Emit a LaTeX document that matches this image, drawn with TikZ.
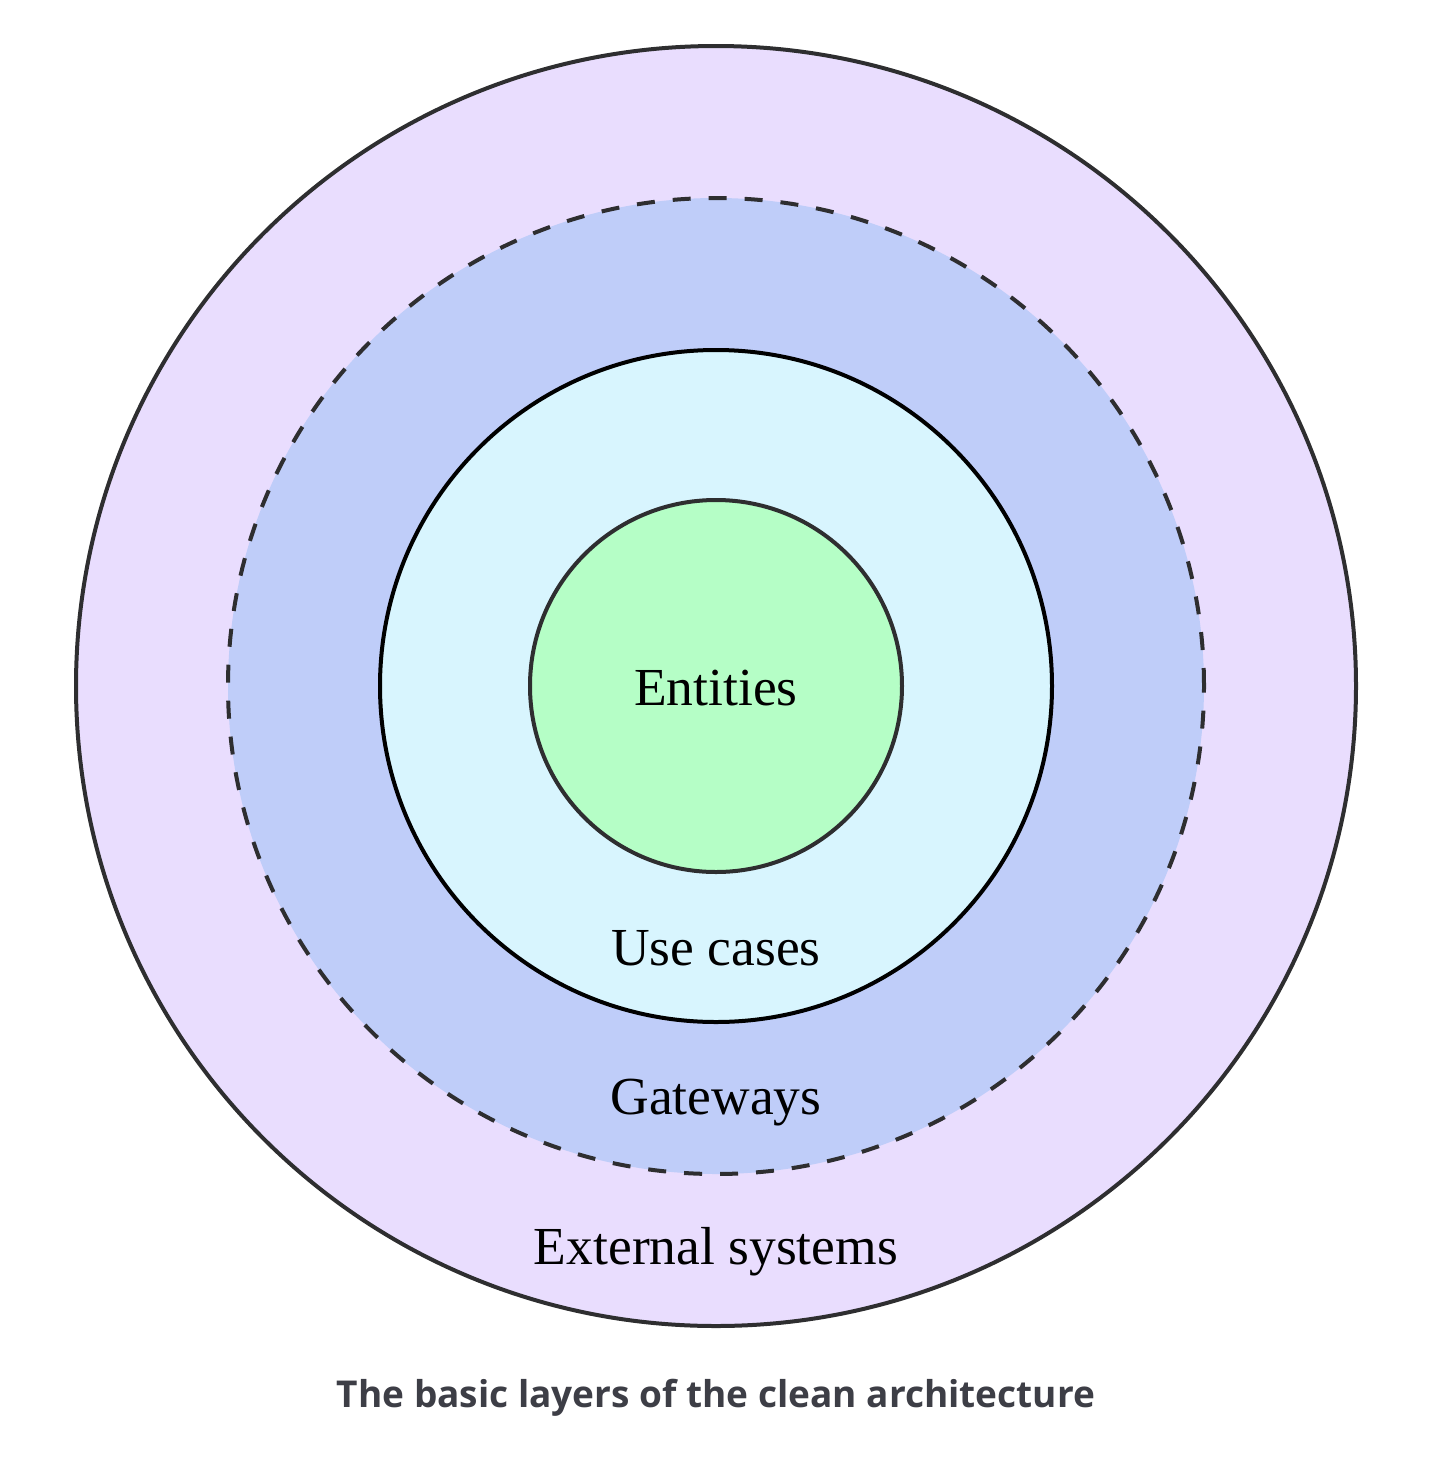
\documentclass[tikz,border=0pt]{standalone}
\usepackage{fontspec}
\setmainfont{Liberation Serif}
\newfontfamily\capfont{Open Sans}
\usetikzlibrary{positioning}

\definecolor{externalfill}{HTML}{E9DDFE}
\definecolor{gatewayfill}{HTML}{BFCDF9}
\definecolor{usecasefill}{HTML}{D8F5FE}
\definecolor{entityfill}{HTML}{B5FEC6}
\definecolor{ringgray}{HTML}{2E2E30}
\definecolor{captiongray}{HTML}{3D3E46}

\tikzset{
  layer/.style={circle,draw=ringgray,line width=4pt,inner sep=0pt},
  layertext/.style={anchor=base,font=\fontsize{53.5}{64}\selectfont},
}

\begin{document}
\begin{tikzpicture}[x=1pt,y=-1pt]
\useasboundingbox (0,0) rectangle (1432,1460);
% the layers, outside in
\node[layer,fill=externalfill,minimum size=1280pt] (external) at (716,686) {};
\node[layer,fill=gatewayfill,minimum size=976pt,dash pattern=on 18pt off 18pt] (gateways) at (716,686) {};
\node[layer,fill=usecasefill,draw=black,minimum size=672pt] (usecases) at (716,686) {};
\node[layer,fill=entityfill,minimum size=372pt] (entities) at (716,686) {};
% labels
\node[layertext] (entitiestext) at (716,705) {Entities};
\node[layertext] (usecasestext) at (716,965) {Use cases};
\node[layertext] (gatewaystext) at (716,1114) {Gateways};
\node[layertext] (externaltext) at (716,1264) {External systems};
\node[anchor=base,text=captiongray,font=\capfont\bfseries\fontsize{37}{45}\selectfont] (caption) at (716,1407) {The basic layers of the clean architecture};
\end{tikzpicture}
\end{document}
